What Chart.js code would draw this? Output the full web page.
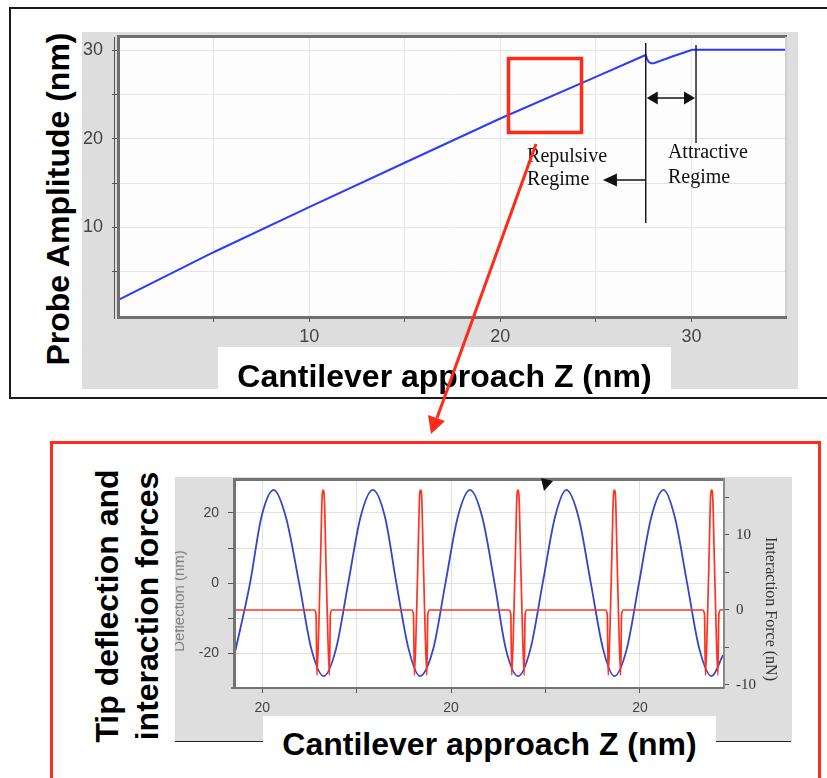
<!DOCTYPE html>
<html>
<head>
<meta charset="utf-8">
<title>Probe amplitude and tip deflection vs cantilever approach</title>
<script src="https://cdn.jsdelivr.net/npm/chart.js@4.4.1/dist/chart.umd.min.js"></script>
<style>
  html,body{margin:0;padding:0;background:#fff}
  body{position:relative;width:827px;height:778px;overflow:hidden;font-family:'Liberation Sans',Arial,sans-serif}
  .abs{position:absolute}
  canvas{position:absolute}
  .big{position:absolute;font-weight:bold;font-size:32px;line-height:32px;color:#000;white-space:nowrap;text-align:center}
  #topBox{left:9px;top:7px;width:840px;height:392px;border:2px solid #1b1b1b;box-sizing:border-box}
  #botBox{left:50px;top:441px;width:771px;height:400px;border:3px solid #ff2b1b;box-sizing:border-box}
  #amp{left:82px;top:32px}
  #defl{left:175px;top:477px}
  #ampXBox{left:218px;top:347px;width:453px;height:42px;background:#fff}
  #ampXTitle{left:218px;top:360px;width:453px}
  #ampYTitle{left:-122px;top:183px;width:360px;height:32px;transform:rotate(-90deg)}
  #deflLine{left:175px;top:741px;width:616px;height:1px;background:#222}
  #deflXBox{left:263px;top:716px;width:453px;height:62px;background:#fff}
  #deflXTitle{left:263px;top:728px;width:453px}
  #deflYTitle{left:-23px;top:566px;width:300px;height:80px;line-height:40px;transform:rotate(-90deg)}
</style>
</head>
<body>
<div id="topBox" class="abs"></div>
<canvas id="amp" width="716" height="357"></canvas>
<div id="ampXBox" class="abs"></div>
<div id="ampXTitle" class="big">Cantilever approach Z (nm)</div>
<div id="ampYTitle" class="big">Probe Amplitude (nm)</div>

<div id="botBox" class="abs"></div>
<canvas id="defl" width="617" height="265"></canvas>
<div id="deflLine" class="abs"></div>
<div id="deflXBox" class="abs"></div>
<div id="deflXTitle" class="big">Cantilever approach Z (nm)</div>
<div id="deflYTitle" class="big">Tip deflection and<br>interaction forces</div>

<svg class="abs" style="left:0;top:0" width="827" height="778">
  <line x1="536" y1="144" x2="437" y2="418" stroke="#ff2a1a" stroke-width="3"/>
  <polygon points="428,415 445,421 431,434" fill="#ff2a1a"/>
  <polygon points="541,478 553,481 544,491" fill="#111"/>
</svg>

<script>
const SANS = "'Liberation Sans', Arial, sans-serif";
const SERIF = "'Liberation Serif', 'Times New Roman', serif";

// top panel: probe amplitude vs cantilever approach
const approachZ      = [0, 5, 10, 15, 20, 25, 27.61, 27.68, 27.76, 27.88, 28.03, 29.0, 30.04, 30.30, 35];
const probeAmplitude = [1.8, 7.2, 12.3, 17.3, 22.3, 27.0, 29.47, 29.0, 28.7, 28.55, 28.55, 29.3, 30.05, 30.05, 30.05];
const ampXTicks  = [5, 10, 15, 20, 25, 30];
const ampXLabels = ['', '10', '', '20', '', '30'];
const ampYTicks  = [5, 10, 15, 20, 25, 30];
const ampYLabels = ['', '10', '', '20', '', '30'];

// bottom panel: tip deflection (nm, left axis) and interaction force (nN, right axis)
const zDeflection = [19.770, 19.787, 19.799, 19.812, 19.825, 19.839, 19.852, 19.865, 19.878, 19.891,
  19.904, 19.917, 19.930, 19.942, 19.955, 19.967, 19.981, 19.994, 20.007, 20.020,
  20.033, 20.046, 20.058, 20.071, 20.084, 20.097, 20.110, 20.122, 20.135, 20.148,
  20.161, 20.173, 20.186, 20.199, 20.212, 20.225, 20.237, 20.250, 20.263, 20.276, 20.288];
const tipDeflection = [-21.0, 0, 18.8, 26.6, 18.8, 0, -18.8, -26.5, -18.8, 0,
  18.8, 26.6, 18.8, 0, -18.8, -26.5, -18.8, 0, 18.8, 26.6,
  18.8, 0, -18.8, -26.5, -18.8, 0, 18.8, 26.6, 18.8, 0,
  -18.8, -26.5, -18.8, 0, 18.8, 26.6, 18.8, 0, -18.8, -26.5, -20.5];
const zForce = [19.7700,
  19.8550, 19.8569, 19.8579, 19.8603, 19.8621, 19.8632, 19.8645, 19.8658, 19.8669, 19.8687, 19.8711, 19.8721, 19.8740,
  19.9582, 19.9601, 19.9611, 19.9635, 19.9653, 19.9664, 19.9677, 19.9690, 19.9701, 19.9719, 19.9743, 19.9753, 19.9772,
  20.0613, 20.0632, 20.0642, 20.0666, 20.0684, 20.0695, 20.0708, 20.0721, 20.0732, 20.0750, 20.0774, 20.0784, 20.0803,
  20.1635, 20.1654, 20.1664, 20.1688, 20.1706, 20.1717, 20.1730, 20.1743, 20.1754, 20.1772, 20.1796, 20.1806, 20.1825,
  20.2665, 20.2684, 20.2694, 20.2718, 20.2736, 20.2747, 20.2760, 20.2773, 20.2784, 20.2802, 20.2826, 20.2836, 20.2855,
  20.2880];
const interactionForce = [0,
  0, -0.6, -8.7, 0, 9.0, 14.6, 16.0, 14.6, 9.0, 0, -8.7, -0.6, 0,
  0, -0.6, -8.7, 0, 9.0, 14.6, 16.0, 14.6, 9.0, 0, -8.7, -0.6, 0,
  0, -0.6, -8.7, 0, 9.0, 14.6, 16.0, 14.6, 9.0, 0, -8.7, -0.6, 0,
  0, -0.6, -8.7, 0, 9.0, 14.6, 16.0, 14.6, 9.0, 0, -8.7, -0.6, 0,
  0, -0.6, -8.7, 0, 9.0, 14.6, 16.0, 14.6, 9.0, 0, -8.7, -0.6, 0,
  0];
const zTicks      = [19.8, 19.9, 20.0, 20.1, 20.2];
const zTickLabels = ['20', '', '20', '', '20'];
const deflTicks   = [-20, -10, 0, 10, 20];
const deflLabels  = ['-20', '', '0', '', '20'];
const forceTicks  = [-10, -5, 0, 5, 10, 15];
const forceLabels = ['-10', '', '0', '', '10', ''];

Chart.defaults.font.family = SANS;

function seg(ctx, x1, y1, x2, y2){ ctx.beginPath(); ctx.moveTo(x1, y1); ctx.lineTo(x2, y2); ctx.stroke(); }
function head(ctx, x, y, dir, len, half){
  ctx.beginPath(); ctx.moveTo(x, y); ctx.lineTo(x - dir*len, y - half); ctx.lineTo(x - dir*len, y + half); ctx.closePath(); ctx.fill();
}
const fixTicks = vals => s => { s.ticks = vals.map(v => ({value: v})); };

const ampPanel = {
  id: 'ampPanel',
  beforeDraw(c){
    const {ctx, chartArea: a} = c;
    ctx.save();
    ctx.fillStyle = '#dddddd'; ctx.fillRect(0, 0, c.width, c.height);
    ctx.fillStyle = '#fdfdfd'; ctx.fillRect(a.left, a.top, a.right - a.left, a.bottom - a.top);
    ctx.restore();
  },
  afterDraw(c){
    const {ctx, chartArea: a} = c;
    const X = v => c.scales.x.getPixelForValue(v), Y = v => c.scales.y.getPixelForValue(v);
    ctx.save();
    // frame
    ctx.fillStyle = '#6f6f6f';
    ctx.fillRect(a.left - 1, a.top - 2, a.right - a.left + 1, 3);
    ctx.fillRect(a.left - 1, a.top - 2, 3, a.bottom - a.top + 4);
    ctx.fillRect(a.left - 1, a.bottom, a.right - a.left + 1, 3);
    ctx.fillStyle = '#cfcfcf'; ctx.fillRect(a.right - 2, a.top, 2, a.bottom - a.top);
    ctx.fillStyle = '#555'; ctx.fillRect(a.left - 4, a.top, 1, a.bottom - a.top + 3);

    // regime boundaries and arrows
    const zRep = 27.61, zAtt = 30.24;
    ctx.strokeStyle = '#111'; ctx.fillStyle = '#111'; ctx.lineWidth = 1.4;
    seg(ctx, X(zRep), Y(30.82), X(zRep), Y(10.5));
    seg(ctx, X(zAtt), Y(30.6), X(zAtt), Y(19.53));
    seg(ctx, X(zRep) + 6, Y(24.61), X(zAtt) - 6, Y(24.61));
    head(ctx, X(zRep) + 1, Y(24.61), -1, 11, 6.5);
    head(ctx, X(zAtt) - 1, Y(24.61), 1, 11, 6.5);
    seg(ctx, X(zRep), Y(15.36), X(25.37) + 10, Y(15.36));
    head(ctx, X(25.37), Y(15.36), -1, 14, 6.5);

    ctx.font = '20px ' + SERIF; ctx.textAlign = 'left'; ctx.textBaseline = 'alphabetic';
    ctx.fillText('Repulsive', X(21.40), Y(17.39));
    ctx.fillText('Regime', X(21.40), Y(14.79));
    ctx.fillText('Attractive', X(28.77), Y(17.84));
    ctx.fillText('Regime', X(28.77), Y(15.07));

    // zoom window
    ctx.strokeStyle = '#ff2a1a'; ctx.lineWidth = 3.5;
    ctx.strokeRect(X(20.43), Y(29.07), X(24.25) - X(20.43), Y(20.72) - Y(29.07));
    ctx.restore();
  }
};

new Chart(document.getElementById('amp'), {
  type: 'line',
  data: { datasets: [{
    data: approachZ.map((z, i) => ({x: z, y: probeAmplitude[i]})),
    borderColor: '#2b3bff', borderWidth: 2, pointRadius: 0, fill: false, tension: 0
  }]},
  options: {
    responsive: false, animation: false, events: [],
    layout: { padding: {top: 5, right: 11, left: 0, bottom: 0}, autoPadding: false },
    plugins: { legend: {display: false}, tooltip: {enabled: false} },
    scales: {
      x: { type: 'linear', min: 0, max: 35,
        afterBuildTicks: fixTicks(ampXTicks),
        afterFit: s => { s.height = 73; s.paddingLeft = 0; s.paddingRight = 0; },
        ticks: { callback: (v, i) => ampXLabels[i], autoSkip: false, maxRotation: 0, padding: 4, color: '#444', font: {size: 18} },
        grid: { color: '#e6e6e6', tickColor: '#555', tickLength: 6 },
        border: { display: false } },
      y: { type: 'linear', min: 0, max: 31.5,
        afterBuildTicks: fixTicks(ampYTicks),
        afterFit: s => { s.width = 36; s.paddingTop = 0; s.paddingBottom = 0; },
        ticks: { callback: (v, i) => ampYLabels[i], autoSkip: false, padding: 9, color: '#444', font: {size: 18} },
        grid: { color: '#e6e6e6', tickColor: '#555', tickLength: 6 },
        border: { display: false } }
    }
  },
  plugins: [ampPanel]
});

const deflPanel = {
  id: 'deflPanel',
  beforeDraw(c){
    const {ctx, chartArea: a} = c;
    ctx.save();
    ctx.fillStyle = '#dedede'; ctx.fillRect(0, 0, c.width, c.height);
    ctx.fillStyle = '#ffffff'; ctx.fillRect(a.left, a.top, a.right - a.left, a.bottom - a.top);
    ctx.restore();
  },
  afterDraw(c){
    const {ctx, chartArea: a} = c;
    const midY = (a.top + a.bottom) / 2;
    ctx.save();
    ctx.fillStyle = '#747474';
    ctx.fillRect(a.left - 1, a.top - 2, a.right - a.left + 2, 3);
    ctx.fillRect(a.left - 1, a.top - 2, 3, a.bottom - a.top + 2);
    ctx.fillRect(a.left - 3, a.bottom, a.right - a.left + 4, 2);
    ctx.fillStyle = '#8a8a8a';
    ctx.fillRect(a.right, a.top - 2, 2, a.bottom - a.top + 4);

    ctx.textAlign = 'center'; ctx.textBaseline = 'alphabetic';
    ctx.save();
    ctx.fillStyle = '#808080'; ctx.font = '15px ' + SANS;
    ctx.translate(a.left - 50, midY + 17.5); ctx.rotate(-Math.PI / 2);
    ctx.fillText('Deflection (nm)', 0, 0);
    ctx.restore();
    ctx.save();
    ctx.fillStyle = '#333'; ctx.font = '16px ' + SERIF;
    ctx.translate(a.right + 43, midY + 25.5); ctx.rotate(Math.PI / 2);
    ctx.fillText('Interaction Force (nN)', 0, 0);
    ctx.restore();
    ctx.restore();
  }
};

new Chart(document.getElementById('defl'), {
  type: 'line',
  data: { datasets: [
    { data: zDeflection.map((z, i) => ({x: z, y: tipDeflection[i]})), yAxisID: 'y', order: 2,
      borderColor: '#3444cc', borderWidth: 1.8, pointRadius: 0, fill: false, cubicInterpolationMode: 'monotone' },
    { data: zForce.map((z, i) => ({x: z, y: interactionForce[i]})), yAxisID: 'y2', order: 1,
      borderColor: '#ff3320', borderWidth: 1.7, pointRadius: 0, fill: false, cubicInterpolationMode: 'monotone' }
  ]},
  options: {
    responsive: false, animation: false, events: [],
    layout: { padding: {top: 3, right: 0, left: 0, bottom: 0}, autoPadding: false },
    plugins: { legend: {display: false}, tooltip: {enabled: false} },
    scales: {
      x: { type: 'linear', min: 19.770, max: 20.288,
        afterBuildTicks: fixTicks(zTicks),
        afterFit: s => { s.height = 55; s.paddingLeft = 0; s.paddingRight = 0; },
        ticks: { callback: (v, i) => zTickLabels[i], autoSkip: false, maxRotation: 0, padding: 7, color: '#444', font: {size: 14} },
        grid: { color: '#e2e2e2', tickColor: '#555', tickLength: 6 },
        border: { display: false } },
      y: { type: 'linear', position: 'left', min: -29.6, max: 29.4,
        afterBuildTicks: fixTicks(deflTicks),
        afterFit: s => { s.width = 59; s.paddingTop = 0; s.paddingBottom = 0; },
        ticks: { callback: (v, i) => deflLabels[i], autoSkip: false, padding: 9, color: '#444', font: {size: 14} },
        grid: { color: '#e2e2e2', tickColor: '#555', tickLength: 6 },
        border: { display: false } },
      y2: { type: 'linear', position: 'right', min: -10.27, max: 17.33,
        afterBuildTicks: fixTicks(forceTicks),
        afterFit: s => { s.width = 69; s.paddingTop = 0; s.paddingBottom = 0; },
        ticks: { callback: (v, i) => forceLabels[i], autoSkip: false, padding: 7, color: '#333', font: {family: SERIF, size: 15} },
        grid: { drawOnChartArea: false, tickColor: '#555', tickLength: 6 },
        border: { display: false } }
    }
  },
  plugins: [deflPanel]
});
</script>
</body>
</html>
